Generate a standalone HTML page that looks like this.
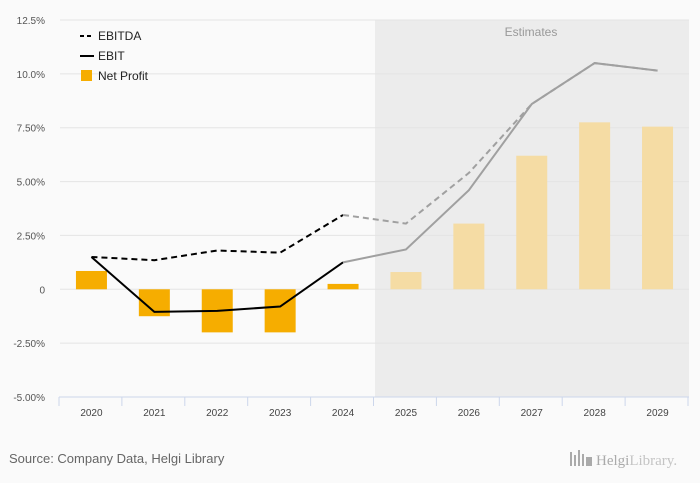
<!DOCTYPE html>
<html><head><meta charset="utf-8"><style>
body{margin:0;background:#fafafa;font-family:"Liberation Sans",sans-serif;}
svg{display:block}
</style></head><body>
<svg id="chart" width="700" height="483" xmlns="http://www.w3.org/2000/svg">
<rect width="700" height="483" fill="#fafafa"/>
<g id="grid"></g>
<rect x="375" y="20" width="314" height="377" fill="#ececec"/>
<text x="531" y="36" text-anchor="middle" font-size="12" fill="#999">Estimates</text>
<g id="gridlines"></g>
<g id="bars"></g>
<g id="lines"></g>
<g id="axes"></g>
<g>
<line x1="80" y1="36" x2="94" y2="36" stroke="#000" stroke-width="2" stroke-dasharray="4,3"/>
<text x="98" y="40" font-size="12" fill="#222">EBITDA</text>
<line x1="80" y1="56" x2="94" y2="56" stroke="#000" stroke-width="2"/>
<text x="98" y="60" font-size="12" fill="#222">EBIT</text>
<rect x="81" y="70" width="11" height="11" fill="#f6ad00"/>
<text x="98" y="80" font-size="12" fill="#222">Net Profit</text>
</g>
<text x="9" y="463" font-size="13" fill="#666">Source: Company Data, Helgi Library</text>
<g>
<rect x="570" y="452" width="2" height="14" fill="#aaa"/><rect x="574" y="455" width="2" height="11" fill="#aaa"/><rect x="578" y="450" width="2" height="16" fill="#aaa"/><rect x="582" y="454" width="2" height="12" fill="#aaa"/><rect x="586" y="457" width="6" height="9" fill="#aaa"/>
<text x="596" y="465" font-size="15" font-family="Liberation Serif,serif" fill="#aaa">Helgi<tspan fill="#c4c4c4">Library.</tspan></text>
</g>
</svg>
<script>
const categories=["2020","2021","2022","2023","2024","2025","2026","2027","2028","2029"];
const netProfit=[0.85,-1.25,-2.0,-2.0,0.25,0.8,3.05,6.2,7.75,7.55];
const ebitda=[1.5,1.35,1.8,1.7,3.45,3.05,5.4,8.6,10.5,10.15];
const ebit=[1.5,-1.05,-1.0,-0.8,1.25,1.85,4.6,8.6,10.5,10.15];
const yTicks=[12.5,10,7.5,5,2.5,0,-2.5,-5];
const yTickLabels=["12.5%","10.0%","7.50%","5.00%","2.50%","0","-2.50%","-5.00%"];
const firstEstimate=5;
const NS="http://www.w3.org/2000/svg";
const x0=60,x1=689,yTop=20,yBot=397,ymin=-5,ymax=12.5;
const bw=(x1-x0)/categories.length;
function xs(i){return x0+bw*(i+0.5);}
function ys(v){return yBot-(v-ymin)/(ymax-ymin)*(yBot-yTop);}
function mk(tag,attrs,parent){const e=document.createElementNS(NS,tag);for(const k in attrs)e.setAttribute(k,attrs[k]);document.getElementById(parent).appendChild(e);return e;}
yTicks.forEach((t,i)=>{
 const g=mk('line',{x1:x0,x2:x1,y1:ys(t),y2:ys(t),stroke:'#e4e4e4','stroke-width':1},'gridlines');
 
 
 const l=mk('text',{x:45,y:ys(t)+4,'text-anchor':'end','font-size':10,fill:'#555'},'axes');
 l.textContent=yTickLabels[i];
 
 
});
const ax=mk('line',{x1:x0-1,x2:x1,y1:yBot,y2:yBot,stroke:'#ccd6eb'},'axes');


for(let i=0;i<=categories.length;i++){
 const tk=mk('line',{x1:x0-1+bw*i,x2:x0-1+bw*i,y1:yBot,y2:yBot+9,stroke:'#ccd6eb'},'axes');
 
 
}
categories.forEach((c,i)=>{
 const t=mk('text',{x:xs(i),y:416,'text-anchor':'middle','font-size':10,fill:'#444'},'axes');
 t.textContent=c;
 
 
 const v=netProfit[i],y=Math.min(ys(v),ys(0)),h=Math.abs(ys(v)-ys(0));
 const b=mk('rect',{x:xs(i)-15.5,y:y,width:31,height:h,fill:i>=firstEstimate?'#f5dca4':'#f6ad00'},'bars');
 
 
});
function drawLine(arr,dash,name){
 const seg=(a,b,col)=>{let d='';for(let i=a;i<=b;i++)d+=(i===a?'M':'L')+xs(i)+','+ys(arr[i]);
  const p=mk('path',{d:d,fill:'none',stroke:col,'stroke-width':2,'stroke-dasharray':dash},'lines');
  
  };
 seg(0,firstEstimate-1,'#000');
 seg(firstEstimate-1,arr.length-1,'#a0a0a0');
}
drawLine(ebitda,'6,4','ebitda-line');
drawLine(ebit,'none','ebit-line');
</script>
</body></html>
